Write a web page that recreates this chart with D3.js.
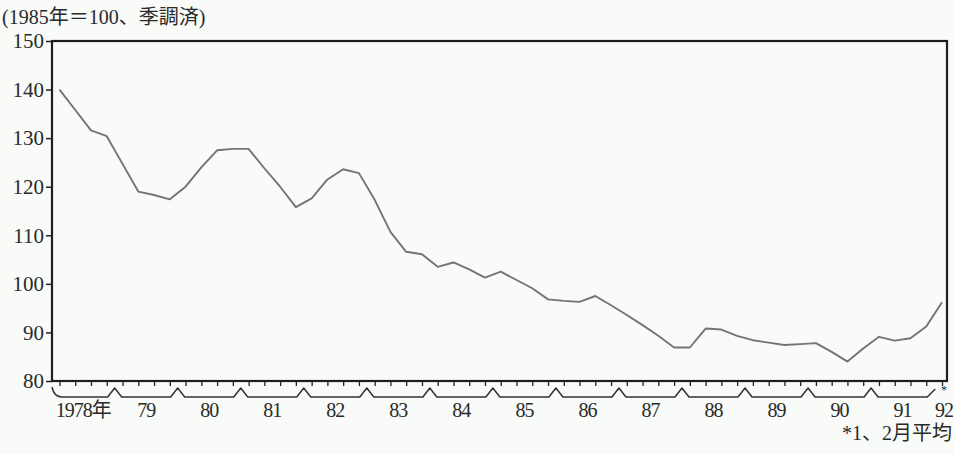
<!DOCTYPE html>
<html><head><meta charset="utf-8">
<script src="https://cdn.jsdelivr.net/npm/d3@7"></script>
<style>
body{margin:0;background:#f8fbf8}
svg{display:block}
text{font-family:"Liberation Serif","Noto Sans CJK JP",serif;fill:#2a2a2a}
</style>
</head><body>
<svg id="c" width="954" height="454"></svg>
<script>
// ---- data ----
const title = "(1985年＝100、季調済)";
const footnote = "*1、2月平均";
const yearLabels = ["1978年","79","80","81","82","83","84","85","86","87","88","89","90","91"];
const lastLabel = "92";
const yTicks = [80,90,100,110,120,130,140,150];
// quarterly index, 1978Q1 .. 1991Q4, then 1992 Jan-Feb average
const values = [
  140.0,135.8,131.6,130.4,
  124.7,119.0,118.3,117.4,
  120.0,124.0,127.5,127.8,
  127.8,123.8,120.0,115.8,
  117.6,121.5,123.6,122.8,
  117.3,110.7,106.6,106.1,
  103.5,104.4,103.0,101.3,
  102.5,100.8,99.1,96.8,
  96.5,96.3,97.5,95.6,
  93.6,91.5,89.3,86.9,
  86.9,90.8,90.6,89.3,
  88.4,87.9,87.4,87.6,
  87.8,86.0,84.0,86.7,
  89.1,88.3,88.8,91.2,
  96.2
];

// ---- layout ----
const svg = d3.select("#c");
const frame = {left:52, right:947, top:41, bottom:381};
const x = d3.scaleLinear().domain([0, values.length-1]).range([59.5, 942]);
const y = d3.scaleLinear().domain([80,150]).range([frame.bottom, frame.top]);

// title
svg.append("text").attr("x",2).attr("y",24).attr("font-size",20).text(title);

// frame
svg.append("rect").attr("x",frame.left).attr("y",frame.top)
  .attr("width",frame.right-frame.left).attr("height",frame.bottom-frame.top)
  .attr("fill","none").attr("stroke","#1e1e1e").attr("stroke-width",2.2);

// y axis
const yAxis = d3.axisLeft(y).tickValues(yTicks).tickSize(6).tickPadding(2);
const gy = svg.append("g").attr("transform",`translate(${frame.left},0)`).call(yAxis);
gy.select(".domain").remove();
gy.selectAll(".tick line").attr("stroke","#222").attr("stroke-width",1.5);
gy.selectAll(".tick text").attr("font-size",21).attr("font-family","Liberation Serif, serif").attr("fill","#2a2a2a").attr("x",-8);

// x quarter ticks
const qIdx = d3.range(values.length);
const xAxis = d3.axisBottom(x).tickValues(qIdx).tickSize(5).tickFormat("");
const gx = svg.append("g").attr("transform",`translate(0,${frame.bottom})`).call(xAxis);
gx.select(".domain").remove();
gx.selectAll(".tick line").attr("stroke","#222").attr("stroke-width",1.3);

// year brackets
const by = 397, py = 388, hw = 7;
const p = d3.path();
p.moveTo(frame.left, 387);
p.quadraticCurveTo(frame.left+2, by, frame.left+10, by);
for (let k = 1; k < yearLabels.length; k++) {
  const xj = x(4*k - 0.5);
  p.lineTo(xj-hw, by);
  p.lineTo(xj, py);
  p.lineTo(xj+hw, by);
}
p.lineTo(x(values.length-2)+1, by);
p.lineTo(x(values.length-2)+9, py+1);
svg.append("path").attr("d",p.toString()).attr("fill","none")
  .attr("stroke","#333").attr("stroke-width",1.5).attr("stroke-linejoin","round");

// year labels
svg.selectAll("text.yr").data(yearLabels).join("text").attr("class","yr")
  .attr("x",(d,i)=>x(4*i+1.5)).attr("y",417).attr("text-anchor","middle")
  .attr("font-size",20).attr("letter-spacing",-1).text(d=>d);
svg.append("text").attr("x",x(values.length-1)+2).attr("y",417).attr("text-anchor","middle")
  .attr("font-size",20).attr("letter-spacing",-1).text(lastLabel);
svg.append("text").attr("x",x(values.length-1)+2).attr("y",394).attr("text-anchor","middle")
  .attr("font-size",12).text("*");

// footnote
svg.append("text").attr("x",952).attr("y",440).attr("text-anchor","end")
  .attr("font-size",20).text(footnote);

// line
const line = d3.line().x((d,i)=>x(i)).y(d=>y(d));
svg.append("path").datum(values).attr("d",line).attr("fill","none")
  .attr("stroke","#747474").attr("stroke-width",1.9).attr("stroke-linejoin","round");
</script>
</body></html>
